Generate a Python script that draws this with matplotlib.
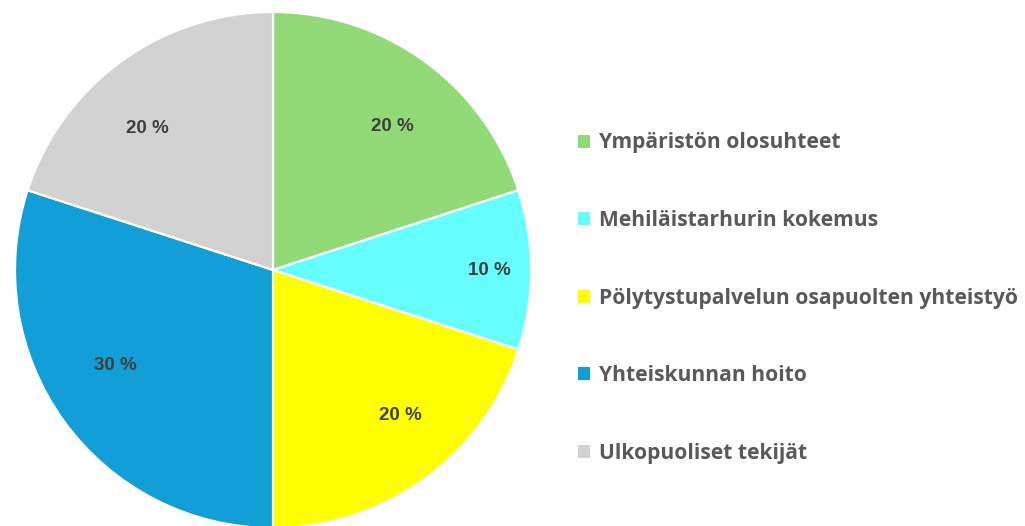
import numpy as np
import matplotlib.pyplot as plt

labels = ['Ympäristön olosuhteet', 'Mehiläistarhurin kokemus',
          'Pölytystupalvelun osapuolten yhteistyö', 'Yhteiskunnan hoito',
          'Ulkopuoliset tekijät']
values = [20, 10, 20, 30, 20]
colors = ['#92D978', '#66FFFF', '#FFFF00', '#129ED6', '#D2D2D2']
# where each percentage label sits: fraction of radius, and angle shift off the wedge middle
label_dist = [0.724, 0.837, 0.752, 0.715, 0.736]
label_shift = [-3.6, 0.0, 5.2, -5.0, 5.6]

plt.rcParams['font.family'] = ['Open Sans', 'DejaVu Sans']

fig = plt.figure(figsize=(10.25, 5.26), dpi=100)
ax = fig.add_axes([15 / 1025, -2 / 526, 516 / 1025, 516 / 526])

wedges, _ = ax.pie(values, colors=colors, startangle=90, counterclock=False,
                   wedgeprops=dict(edgecolor='white', linewidth=1.6))
ax.set_xlim(-1, 1)
ax.set_ylim(-1, 1)
ax.set_aspect('equal')
ax.axis('off')

for w, v, d, s in zip(wedges, values, label_dist, label_shift):
    mid = np.deg2rad((w.theta1 + w.theta2) / 2 + s)
    ax.text(d * np.cos(mid), d * np.sin(mid), f'{v} %', ha='center', va='center',
            fontsize=13.5, fontweight='bold', color='#404040',
            family=['Liberation Sans', 'DejaVu Sans'])

leg = fig.legend(wedges, labels, loc='center left', bbox_to_anchor=(0.5535, 0.433),
                 frameon=False, handlelength=0.58, handleheight=0.58, handletextpad=0.42,
                 labelspacing=2.7, borderpad=0, prop=dict(size=15.1, weight='bold'))
for t in leg.get_texts():
    t.set_color('#595959')
for h in leg.legend_handles:
    h.set_edgecolor('none')

fig.savefig('out.png', dpi=100)
